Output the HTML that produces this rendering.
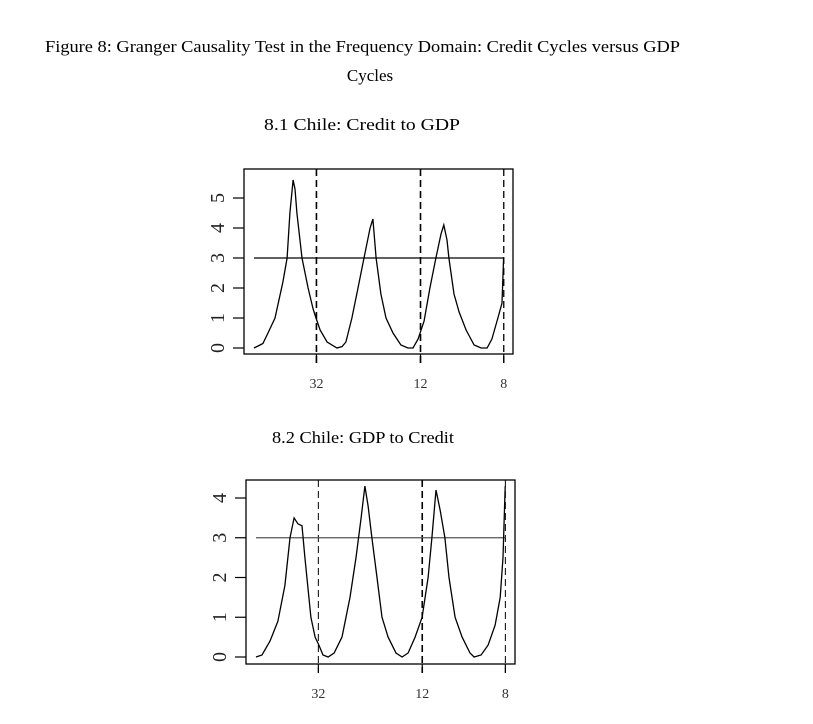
<!DOCTYPE html>
<html><head><meta charset="utf-8"><style>
html,body{margin:0;padding:0;background:#fff;}
svg{display:block;font-family:"Liberation Serif",serif;}
</style></head><body>
<svg id="fig" width="813" height="724" viewBox="0 0 813 724" xmlns="http://www.w3.org/2000/svg">
<rect width="813" height="724" fill="#fff"/>
<text x="45" y="52" font-size="17" textLength="635" lengthAdjust="spacingAndGlyphs">Figure 8: Granger Causality Test in the Frequency Domain: Credit Cycles versus GDP</text>
<text x="370" y="81" font-size="17" text-anchor="middle">Cycles</text>
<text x="362" y="130" font-size="16.5" text-anchor="middle" textLength="196" lengthAdjust="spacingAndGlyphs">8.1 Chile: Credit to GDP</text>
<text x="363" y="443" font-size="16.5" text-anchor="middle" textLength="182" lengthAdjust="spacingAndGlyphs">8.2 Chile: GDP to Credit</text>
<g id="p1"></g>
<g id="p2"></g>
</svg>
<script>
const xTickPeriods = [32, 12, 8];
const xTickLabels = ["32", "12", "8"];
const threshold1 = 3;
const threshold2 = 3;
const yTicks1 = [0,1,2,3,4,5];
const yTicks2 = [0,1,2,3,4];
const freq1 = [0,.019,.028,.044,.066,.091,.104,.113,.123,.129,.135,.151,.170,.186,.195,.208,.230,.261,.277,.289,.308,.327,.346,.365,.374,.384,.399,.415,.437,.462,.484,.500,.516,.535,.553,.572,.588,.597,.607,.613,.629,.645,.667,.692,.714,.733,.748,.767,.780,.785];
const vals1 = [0,.1,.15,.5,1.0,2.2,3.0,4.5,5.6,5.3,4.5,3.0,2.0,1.3,1.0,.6,.2,0,.05,.2,1.0,2.0,3.0,4.0,4.3,3.0,1.8,1.0,.5,.1,0,0,.3,.9,2.0,3.0,3.8,4.1,3.6,3.0,1.8,1.2,.6,.1,0,0,.3,1.0,1.5,3.0];
const freq2 = [0,.019,.044,.069,.091,.107,.120,.132,.145,.154,.173,.186,.198,.211,.227,.246,.271,.296,.315,.331,.343,.353,.365,.381,.397,.416,.441,.460,.479,.501,.523,.542,.554,.567,.580,.595,.608,.627,.649,.674,.687,.709,.731,.753,.769,.778,.785];
const vals2 = [0,.05,.4,.9,1.8,3.0,3.5,3.35,3.3,2.5,1.0,.5,.3,.05,0,.1,.5,1.5,2.5,3.5,4.3,3.8,3.0,2.0,1.0,.5,.1,0,.1,.5,1.0,2.0,3.0,4.2,3.7,3.0,2.0,1.0,.5,.1,0,.05,.3,.8,1.5,2.5,4.3];

const NS="http://www.w3.org/2000/svg";
function mk(parent,tag,attrs){const e=document.createElementNS(NS,tag);for(const k in attrs)e.setAttribute(k,attrs[k]);parent.appendChild(e);return e;}

function panel(g, cfg, freq, vals, yTicks, thr, thrColor, dashW){
  const sx=f=>cfg.x0+f*cfg.kx;
  const sy=v=>cfg.y0-v*cfg.ky;
  const box=mk(g,'rect',{x:cfg.bx0,y:cfg.by0,width:cfg.bx1-cfg.bx0,height:cfg.by1-cfg.by0,fill:'none',stroke:'#000','stroke-width':1.3});
  
  
  yTicks.forEach(t=>{
    const l=mk(g,'line',{x1:cfg.bx0-11,x2:cfg.bx0,y1:sy(t),y2:sy(t),stroke:'#000','stroke-width':1.2});
    
    
    const tx=mk(g,'text',{x:0,y:0,'font-size':20,'text-anchor':'middle',transform:`translate(${cfg.bx0-27},${sy(t)}) rotate(-90) translate(0,7)`,fill:'#222'});
    tx.textContent=t;
    
    
  });
  xTickPeriods.forEach((p,i)=>{
    const x=sx(2*Math.PI/p);
    const d=mk(g,'line',{x1:x,x2:x,y1:cfg.by0,y2:cfg.by1+9,stroke:'#000','stroke-width':dashW[i],'stroke-dasharray':'7,4'});
    
    
    const t=mk(g,'line',{x1:x,x2:x,y1:cfg.by1,y2:cfg.by1+9,stroke:'#000','stroke-width':1.2});
    
    
    const tx=mk(g,'text',{x:x,y:cfg.by1+34,'font-size':14,'text-anchor':'middle',fill:'#333'});
    tx.textContent=xTickLabels[i];
    
    
  });
  const th=mk(g,'line',{x1:sx(0),x2:sx(freq[freq.length-1]),y1:sy(thr),y2:sy(thr),stroke:thrColor,'stroke-width':1.3});
  
  
  const pts=freq.map((f,i)=>sx(f).toFixed(1)+','+sy(vals[i]).toFixed(1)).join(' ');
  const pl=mk(g,'polyline',{points:pts,fill:'none',stroke:'#000','stroke-width':1.3});
  
  
}
panel(document.getElementById('p1'),{x0:254,kx:318,y0:348,ky:30,bx0:244,bx1:513,by0:169,by1:354},freq1,vals1,yTicks1,threshold1,'#000',[1.6,1.6,1.3]);
panel(document.getElementById('p2'),{x0:256,kx:317.5,y0:657,ky:39.75,bx0:246,bx1:515,by0:480,by1:664},freq2,vals2,yTicks2,threshold2,'#555',[1,1.6,1]);
</script>
</body></html>
